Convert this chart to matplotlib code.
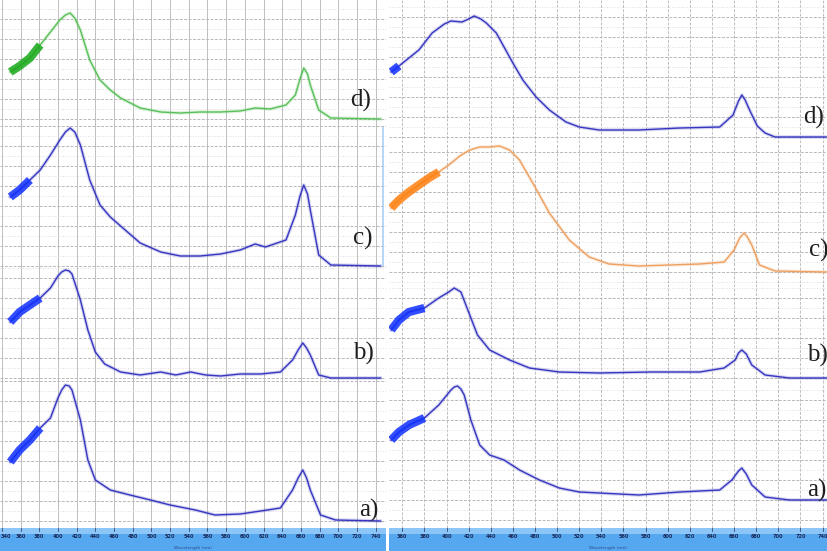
import numpy as np
import matplotlib
matplotlib.use('Agg')
import matplotlib.pyplot as plt
from matplotlib.ticker import MultipleLocator
from matplotlib.lines import Line2D
from matplotlib.patches import Rectangle
import matplotlib.transforms as mtransforms

W, H = 827, 551

# ---- spectra: wavelength (nm) and absorbance (a.u.), left set ----
left_d_nm = [349, 359, 370, 381, 392, 402, 408, 413, 418, 424, 434, 445, 456, 467, 488, 510, 531,
             552, 574, 595, 611, 627, 644, 654, 659, 663, 667, 670, 679, 692, 745]
left_d_abs = [0.47, 0.53, 0.61, 0.74, 0.87, 0.99, 1.04, 1.06, 1.01, 0.89, 0.59, 0.39, 0.29, 0.21,
              0.11, 0.07, 0.06, 0.07, 0.07, 0.08, 0.11, 0.10, 0.14, 0.24, 0.40, 0.51, 0.45, 0.34,
              0.09, 0.01, 0.00]

left_c_nm = [349, 359, 370, 381, 392, 402, 408, 413, 418, 424, 434, 445, 456, 467, 488, 510, 531,
             552, 574, 595, 611, 622, 644, 654, 659, 663, 667, 670, 679, 692, 745]
left_c_abs = [0.69, 0.76, 0.86, 0.96, 1.11, 1.26, 1.34, 1.38, 1.34, 1.21, 0.86, 0.61, 0.49, 0.40,
              0.23, 0.14, 0.10, 0.10, 0.12, 0.16, 0.22, 0.19, 0.26, 0.51, 0.70, 0.81, 0.72, 0.56,
              0.11, 0.01, 0.00]

left_b_nm = [349, 359, 370, 381, 392, 400, 404, 408, 412, 415, 424, 432, 440, 450, 467, 488, 510,
             526, 542, 558, 574, 595, 617, 638, 651, 657, 662, 666, 670, 679, 692, 745]
left_b_abs = [0.56, 0.66, 0.73, 0.80, 0.90, 1.02, 1.06, 1.08, 1.07, 1.04, 0.78, 0.48, 0.26, 0.14,
              0.06, 0.03, 0.06, 0.03, 0.06, 0.03, 0.02, 0.04, 0.04, 0.06, 0.18, 0.28, 0.35, 0.30,
              0.23, 0.03, 0.00, 0.00]

left_a_nm = [349, 359, 370, 381, 392, 400, 404, 408, 412, 415, 424, 432, 440, 456, 477, 499, 520,
             547, 568, 595, 617, 638, 651, 657, 662, 666, 670, 681, 697, 745]
left_a_abs = [0.59, 0.71, 0.81, 0.93, 1.03, 1.23, 1.31, 1.36, 1.35, 1.31, 1.01, 0.61, 0.41, 0.31,
              0.26, 0.21, 0.16, 0.11, 0.06, 0.07, 0.10, 0.13, 0.31, 0.43, 0.51, 0.43, 0.31, 0.06,
              0.01, 0.00]

# ---- right set ----
right_d_nm = [350, 357, 366, 375, 387, 398, 404, 414, 420, 425, 431, 436, 445, 452, 460, 469, 481,
              493, 508, 520, 538, 574, 611, 647, 659, 664, 667, 670, 674, 681, 688, 697, 744]
right_d_abs = [0.65, 0.71, 0.79, 0.87, 1.04, 1.13, 1.16, 1.15, 1.18, 1.21, 1.18, 1.14, 1.04, 0.90,
               0.74, 0.57, 0.40, 0.27, 0.15, 0.10, 0.07, 0.07, 0.09, 0.10, 0.22, 0.36, 0.42, 0.37,
               0.27, 0.11, 0.04, 0.00, 0.00]

right_c_nm = [350, 357, 366, 375, 384, 393, 402, 412, 421, 430, 439, 448, 457, 466, 479, 493,
              511, 529, 547, 574, 629, 651, 660, 665, 669, 672, 676, 683, 697, 744]
right_c_abs = [0.64, 0.72, 0.80, 0.87, 0.94, 1.00, 1.07, 1.16, 1.22, 1.25, 1.25, 1.26, 1.22, 1.12,
               0.87, 0.59, 0.32, 0.15, 0.08, 0.06, 0.08, 0.10, 0.22, 0.34, 0.39, 0.35, 0.27, 0.07,
               0.01, 0.00]

right_b_nm = [350, 357, 366, 380, 393, 402, 407, 413, 421, 428, 439, 457, 475, 502, 538, 584,
              629, 651, 661, 664, 667, 671, 676, 688, 710, 744]
right_b_abs = [0.48, 0.58, 0.66, 0.70, 0.80, 0.86, 0.90, 0.86, 0.63, 0.43, 0.28, 0.18, 0.10, 0.06,
               0.05, 0.06, 0.06, 0.10, 0.18, 0.25, 0.28, 0.24, 0.13, 0.03, 0.00, 0.00]

right_a_nm = [350, 357, 366, 380, 393, 404, 407, 410, 413, 416, 422, 430, 439, 452, 466, 484, 502,
              520, 538, 574, 611, 647, 658, 664, 667, 671, 676, 688, 710, 744]
right_a_abs = [0.60, 0.68, 0.75, 0.82, 0.95, 1.10, 1.13, 1.14, 1.11, 1.05, 0.80, 0.55, 0.45, 0.40,
               0.30, 0.20, 0.12, 0.08, 0.07, 0.05, 0.08, 0.10, 0.20, 0.29, 0.32, 0.26, 0.15, 0.03,
               0.00, 0.00]

left_ticks = list(range(340, 741, 20))
right_ticks = list(range(360, 741, 20))

# layout of each strip: (spectrum, label, pixel top, pixel bottom, baseline px, colours, thick end nm)
BLUE = ('#3636c0', '#1030ff')
strips_left = [
    (left_d_nm, left_d_abs, 'd)', 0, 125, 119, ('#58c058', '#18a818'), 381),
    (left_c_nm, left_c_abs, 'c)', 125, 268, 266, BLUE, 370),
    (left_b_nm, left_b_abs, 'b)', 268, 380, 378, BLUE, 381),
    (left_a_nm, left_a_abs, 'a)', 380, 528, 521, BLUE, 381),
]
strips_right = [
    (right_d_nm, right_d_abs, 'd)', 0, 143, 137, BLUE, 362),
    (right_c_nm, right_c_abs, 'c)', 143, 283, 272, ('#eea060', '#ff7f0e'), 393),
    (right_b_nm, right_b_abs, 'b)', 283, 383, 378, BLUE, 380),
    (right_a_nm, right_a_abs, 'a)', 383, 528, 500, BLUE, 380),
]
label_pos_left = [(371, 100), (373, 238), (374, 353), (379, 510)]
label_pos_right = [(824, 117), (828, 250), (828, 355), (826, 490)]


def rect(x0, y0, x1, y1):
    return [x0 / W, 1 - y1 / H, (x1 - x0) / W, (y1 - y0) / H]


fig = plt.figure(figsize=(W / 100, H / 100), dpi=100)
fig.patch.set_facecolor('white')


def draw_panel(strips, x0, x1, xlim, ticks, label_pos, vsolid):
    for (nm, ab, lab, top, bot, ref, (thin, thick), tend), (lx, ly) in zip(strips, label_pos):
        ax = fig.add_axes(rect(x0, top, x1, bot))
        ax.set_xlim(*xlim)
        ax.set_ylim((ref - bot) / 100, (ref - top) / 100)
        ax.xaxis.set_major_locator(MultipleLocator(20))
        ax.yaxis.set_major_locator(MultipleLocator(0.2))
        ax.yaxis.set_minor_locator(MultipleLocator(0.1))
        ax.grid(True, axis='x', color='#bdbdbd', lw=0.7,
                ls='-' if vsolid else (0, (3, 1.5)))
        ax.grid(True, axis='y', which='major', color='#b8b8b8', lw=0.7, ls=(0, (3, 1.5)))
        ax.grid(True, axis='y', which='minor', color='#d2d2d2', lw=0.6, ls=(0, (1, 2)))
        ax.tick_params(which='both', length=0, labelbottom=False, labelleft=False)
        for s in ax.spines.values():
            s.set_visible(False)
        ax.patch.set_alpha(0)
        nm = np.array(nm, float)
        ab = np.array(ab, float)
        # soft halo, then the trace
        ax.plot(nm, ab, color=thin, lw=2.6, alpha=0.2, solid_joinstyle='round')
        ax.plot(nm, ab, color=thin, lw=1.0, solid_joinstyle='round')
        k = nm <= tend
        ax.plot(nm[k], ab[k], color=thick, lw=6, alpha=0.85, solid_capstyle='butt')
        fig.text(lx / W, 1 - ly / H, lab, ha='right', va='center',
                 family='Liberation Serif', fontsize=18, color='#1e1e1e')

    # blue bar with wavelength labels
    bar = fig.add_axes(rect(x0, 528, x1, 551))
    bar.set_xlim(*xlim)
    bar.set_ylim(0, 1)
    bar.set_facecolor('#55a8f0')
    bar.add_patch(Rectangle((0, 0.72), 1, 0.28, transform=bar.transAxes,
                            color='#8cc6f8', lw=0))
    bar.set_xticks([])
    bar.set_yticks([])
    for s in bar.spines.values():
        s.set_visible(False)
    trans = mtransforms.blended_transform_factory(bar.transData, bar.transAxes)
    for t in ticks:
        # a label right at the edge is pinned inside the bar
        edge = (t - xlim[0]) < 5
        bar.text(xlim[0] + 0.5 if edge else t, 0.62, str(t), transform=trans,
                 ha='left' if edge else 'center', va='center',
                 fontsize=3.6, fontweight='bold', color='#1a2858')
        bar.plot([t, t], [0.86, 1.0], transform=trans, color='#3a4a70', lw=0.6)
    bar.text(0.5, 0.13, 'Wavelength (nm)', transform=bar.transAxes, ha='center',
             va='center', fontsize=3.2, color='#2a4a90')


draw_panel(strips_left, 0, 386, (338, 751), left_ticks, label_pos_left, True)
draw_panel(strips_right, 389, 827, (348, 744), right_ticks, label_pos_right, False)

# light blue frame edge beside strip c of the left set
fig.add_artist(Line2D([383 / W, 383 / W], [1 - 128 / H, 1 - 265 / H],
                      color='#a8d0f4', lw=1.2))

fig.savefig('out.png', dpi=100)
